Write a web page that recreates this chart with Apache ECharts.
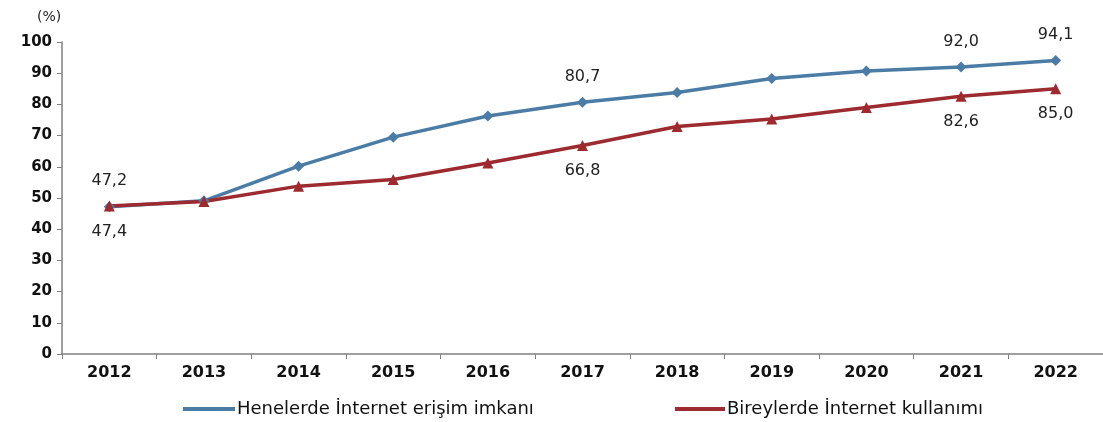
<!DOCTYPE html>
<html><head><meta charset="utf-8">
<script src="https://cdn.jsdelivr.net/npm/echarts@6/dist/echarts.min.js"></script>
<style>html,body{margin:0;padding:0;background:#fff}#c{width:1103px;height:422px}</style>
</head><body><div id="c"></div>
<script>
const years = ['2012','2013','2014','2015','2016','2017','2018','2019','2020','2021','2022'];
const households = [47.2, 49.1, 60.2, 69.5, 76.3, 80.7, 83.8, 88.3, 90.7, 92.0, 94.1];
const individuals = [47.4, 48.9, 53.8, 55.9, 61.2, 66.8, 72.9, 75.3, 79.0, 82.6, 85.0];
const labeledIdx = [0, 5, 9, 10];
const seriesNames = ['Henelerde İnternet erişim imkanı', 'Bireylerde İnternet kullanımı'];
const yTicks = [0,10,20,30,40,50,60,70,80,90,100];

const FONT = 'DejaVu Sans';
const fmt = v => v.toFixed(1).replace('.', ',');
function toData(arr, pos){
  return arr.map((v,i)=>({value:v, label:{show: labeledIdx.includes(i), position: pos, distance: 12,
    formatter: p => fmt(p.value)}}));
}
const chart = echarts.init(document.getElementById('c'));
chart.setOption({
  animation:false,
  grid:{left:62, top:42, width:1049, height:312, containLabel:false},
  graphic:[{type:'text', left:37, top:10, style:{text:'(%)', font:'14px "DejaVu Sans"', fill:'#222'}}],
  legend:[
    {data:[seriesNames[0]], left:183, top:400, padding:0, itemWidth:52, itemHeight:4, icon:'rect', itemGap:2,
     textStyle:{fontFamily:FONT, fontSize:18, color:'#111', padding:[0,0,0,-3]}},
    {data:[seriesNames[1]], left:675, top:400, padding:0, itemWidth:50, itemHeight:4, icon:'rect', itemGap:2,
     textStyle:{fontFamily:FONT, fontSize:18, color:'#111', padding:[0,0,0,-3]}}
  ],
  xAxis:{type:'category', data:years, boundaryGap:true,
    axisLine:{lineStyle:{color:'#808080', width:1.5}},
    axisTick:{show:true, length:5, lineStyle:{color:'#808080'}},
    axisLabel:{fontFamily:FONT, fontSize:16, fontWeight:'bold', color:'#111', margin:11}},
  yAxis:{type:'value', min:0, max:100, interval:10,
    splitLine:{show:false},
    axisLine:{show:true, lineStyle:{color:'#808080', width:1.5}},
    axisTick:{show:true, length:5, lineStyle:{color:'#808080'}},
    axisLabel:{fontFamily:FONT, fontSize:15, fontWeight:'bold', color:'#111', margin:10,
      formatter: v => yTicks.includes(v) ? String(v) : ''}},
  series:[
    {name:seriesNames[0], type:'line', data:toData(households,'top'),
     symbol:'diamond', symbolSize:11, itemStyle:{color:'#4a7ca6'}, lineStyle:{width:3.5, color:'#4a7ca6'},
     label:{fontFamily:FONT, fontSize:16, color:'#222'}},
    {name:seriesNames[1], type:'line', data:toData(individuals,'bottom'),
     symbol:'triangle', symbolSize:11, itemStyle:{color:'#9c2a2f'}, lineStyle:{width:3.5, color:'#9c2a2f'},
     label:{fontFamily:FONT, fontSize:16, color:'#222'}}
  ]
});
</script></body></html>
